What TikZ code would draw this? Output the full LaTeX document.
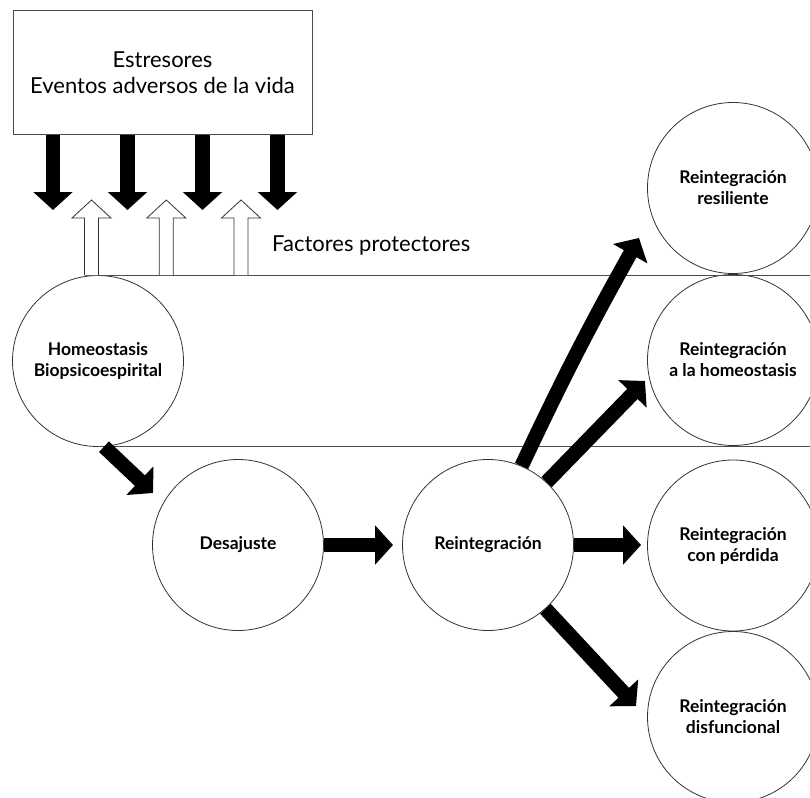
\documentclass[tikz,border=0pt]{standalone}
\usepackage{fontspec}
\setmainfont{Lato}
\usetikzlibrary{arrows.meta}
\begin{document}
\begin{tikzpicture}[x=1pt,y=-1pt,
  circ/.style={circle,draw=black!80,line width=0.8pt,minimum size=171pt,inner sep=0pt,align=center,
    font=\fontsize{17.5}{21}\selectfont\bfseries},
  bigarrow/.style={line width=14.5pt,-{Triangle[width=38.5pt,length=18pt]}},
  rulerline/.style={draw=black!70,line width=0.9pt},
  hollowup/.pic={\draw[draw=black!80,line width=0.8pt,fill=white,line join=miter]
     (-7,75) -- (-7,18) -- (-19.5,18) -- (0,0) -- (19.5,18) -- (7,18) -- (7,75);}]
\useasboundingbox (0,0) rectangle (810,797);
\begin{scope}
\clip (0,0) rectangle (810,797);
% top box
\node[draw=black!70,line width=0.9pt,minimum width=299pt,minimum height=124pt,inner sep=0pt,
  align=center,font=\fontsize{22}{26}\selectfont] (box) at (162.5,72.5)
  {Estresores\\Eventos adversos de la vida};
% circles
\node[circ] (hom) at (98,361) {Homeostasis\\Biopsicoespirital};
\node[circ] (des) at (238,545) {Desajuste};
\node[circ] (reint) at (488,545) {Reintegración};
\node[circ] (res) at (733,188) {Reintegración\\resiliente};
\node[circ] (rho) at (733,360) {Reintegración\\a la homeostasis};
\node[circ] (per) at (733,545.5) {Reintegración\\con pérdida};
\node[circ] (dis) at (733,717) {Reintegración\\disfuncional};
% horizontal lines
\coordinate (redge) at (810,0);
\coordinate (lstart) at (85,275);
\draw[rulerline] (lstart) -- (lstart -| redge);
\draw[rulerline] (hom.south) -- (hom.south -| redge);
% protective factors
\coordinate (p1) at (91.5,200);
\coordinate (p2) at (166.3,200);
\coordinate (p3) at (241,200);
\pic at (p1) {hollowup};
\pic at (p2) {hollowup};
\pic at (p3) {hollowup};
\node[anchor=west,font=\fontsize{22}{24}\selectfont,inner sep=0pt] (fp) at (272,246) {Factores protectores};
% stressor arrows
\coordinate (d1) at (53,210);
\coordinate (d2) at (127.5,210);
\coordinate (d3) at (202.5,210);
\coordinate (d4) at (277.5,210);
\foreach \d in {d1,d2,d3,d4}{\draw[bigarrow] (\d |- box.south) -- (\d);}
% flow arrows
\coordinate (tdes) at (153,493);
\draw[bigarrow] (hom.-86) -- (tdes);
\coordinate (treint) at (393,545);
\draw[bigarrow] (des.east) -- (treint);
\coordinate (tres) at (639,238);
\draw[bigarrow] (reint.67) to[bend left=2] (tres);
\coordinate (trho) at (645,381);
\draw[bigarrow] (reint.47) -- (trho);
\coordinate (tper) at (641,545);
\draw[bigarrow] (reint.east) -- (tper);
\coordinate (tdis) at (636,706);
\draw[bigarrow] (reint.-48) -- (tdis);
\end{scope}
\end{tikzpicture}
\end{document}
